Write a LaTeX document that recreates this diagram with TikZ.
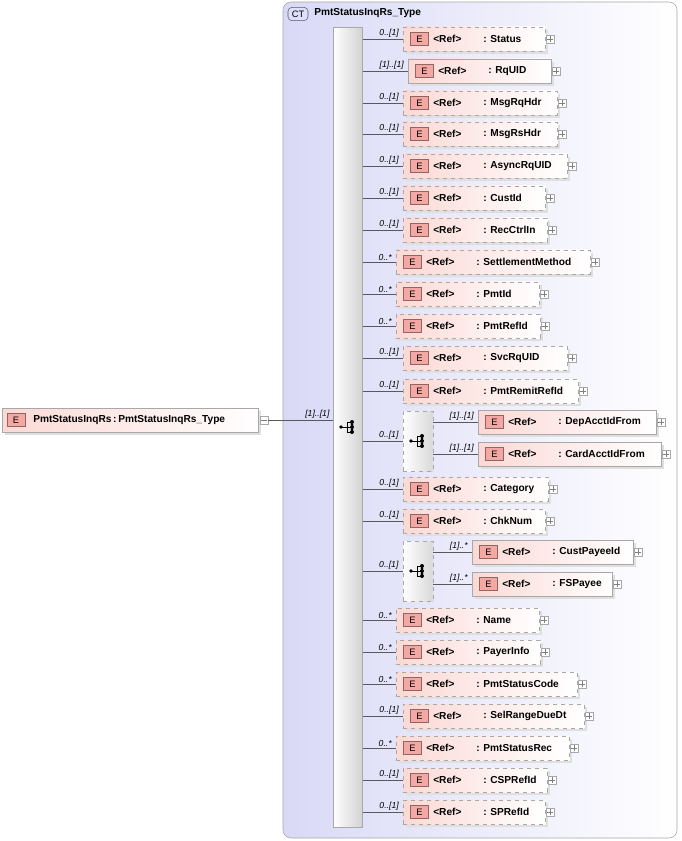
\documentclass[tikz,border=0pt]{standalone}
\usepackage{fontspec}
\setmainfont{Liberation Sans}
\usetikzlibrary{calc}
\definecolor{pinkA}{HTML}{FBD9D5}
\definecolor{ebox}{HTML}{F4A8A4}
\definecolor{lav}{HTML}{D9D9F7}
\definecolor{bord}{HTML}{A8A8A8}
\tikzset{
 elbox/.style={draw=bord,left color=pinkA,right color=white,minimum height=18pt,inner sep=0pt,anchor=west},
 dashedbox/.style={elbox,dashed},
 etag/.style={draw=ebox!60!black,fill=ebox,minimum width=13.5pt,minimum height=10pt,inner sep=0pt,font=\fontsize{7}{8}\selectfont},
 lbl/.style={font=\fontsize{6.5}{7}\selectfont\itshape,anchor=south east,inner sep=1pt},
 txt/.style={font=\fontsize{7.6}{8}\bfseries\selectfont,anchor=west,inner sep=0pt},
 plusbox/.style={draw=bord,fill=white,minimum size=6pt,inner sep=0pt},
 conn/.style={draw=gray!70!black,line width=0.5pt}
}
\newcommand\elrow[7]{%
 \fill[gray!25] (#2+3,#4-9) rectangle (#3+3,#4+15);
 \node[#7,minimum width={(#3-#2)*0.75pt}] (#1) at (#2,#4) {};
 \node[etag] (#1e) at (#2+16.5,#4) {E};
 \node[txt] at (#2+30,#4) {<Ref>};
 \node[txt] at (#2+80,#4) {: #5};
 \node[plusbox] (#1p) at (#3+5,#4) {};
 \draw[gray] ($(#1p.west)+(1pt,0)$) -- ($(#1p.east)-(1pt,0)$) ($(#1p.north)-(0,1pt)$) -- ($(#1p.south)+(0,1pt)$);
}
\newcommand\choiceicon[2]{%
 \fill (#1-7,#2) circle (1.4pt);
 \draw[line width=0.6pt] (#1-7,#2) -- (#1-1,#2) (#1-1,#2-5) -- (#1-1,#2+5) (#1-1,#2-5) -- (#1+4,#2-5) (#1-1,#2+5) -- (#1+4,#2+5) (#1-1,#2) -- (#1+4,#2);
 \foreach \d in {-5,0,5} \fill (#1+4,#2+\d) circle (1.5pt);
 \foreach \d in {-2.5,2.5} \fill (#1+4,#2+\d) circle (1.1pt);
}
\begin{document}
\begin{tikzpicture}[x=0.75pt,y=-0.75pt]
\useasboundingbox (0,0) rectangle (681,841);
\draw[bord,rounded corners=6pt,left color=lav,right color=white] (283,2) rectangle (677,838);
\node[draw=gray!70!black,fill=lav!80!blue!40,rounded corners=3pt,minimum width=15pt,minimum height=10pt,inner sep=0pt,font=\fontsize{7}{8}\selectfont] (ct) at (298,14) {CT};
\node[txt] (cttitle) at (314,13) {PmtStatusInqRs\_Type};
\node[draw=bord,left color=white,right color=gray!35,minimum width={29*0.75pt},minimum height={800*0.75pt},inner sep=0pt,anchor=north west] (seq) at (333,27) {};
\choiceicon{348}{427}
\fill[gray!25] (5,411) rectangle (261,435);
\node[elbox,minimum width={256*0.75pt}] (root) at (2,420) {};
\node[etag] at (16,420) {E};
\node[txt] at (33,420) {PmtStatusInqRs\,:\,PmtStatusInqRs\_Type};
\node[plusbox] (rootm) at (264,420) {};
\draw[gray] ($(rootm.west)+(1pt,0)$) -- ($(rootm.east)-(1pt,0)$);
\draw[conn] (rootm.east) -- (seq.west |- rootm);
\node[lbl] at (331,420) {[1]..[1]};
\foreach \n/\a/\b/\y/\t/\m/\s in {
 status/403/545/39/Status/0..[1]/dashedbox,
 rquid/408/551/71/RqUID/[1]..[1]/elbox,
 msgrq/403/557/103/MsgRqHdr/0..[1]/dashedbox,
 msgrs/403/557/134/MsgRsHdr/0..[1]/dashedbox,
 async/403/567/166/AsyncRqUID/0..[1]/dashedbox,
 cust/403/545/198/CustId/0..[1]/dashedbox,
 rec/403/547/230/RecCtrlIn/0..[1]/dashedbox,
 settle/396/590/262/SettlementMethod/0..*/dashedbox,
 pmtid/396/539/294/PmtId/0..*/dashedbox,
 pmtref/396/540/326/PmtRefId/0..*/dashedbox,
 svc/403/567/358/SvcRqUID/0..[1]/dashedbox,
 remit/403/578/391/PmtRemitRefId/0..[1]/dashedbox,
 cat/403/548/489/Category/0..[1]/dashedbox,
 chk/403/545/521/ChkNum/0..[1]/dashedbox,
 name/396/539/620/Name/0..*/dashedbox,
 payer/396/540/652/PayerInfo/0..*/dashedbox,
 code/396/577/684/PmtStatusCode/0..*/dashedbox,
 selr/403/584/716/SelRangeDueDt/0..[1]/dashedbox,
 srec/396/569/748/PmtStatusRec/0..*/dashedbox,
 csp/403/547/780/CSPRefId/0..[1]/dashedbox,
 sp/403/545/812/SPRefId/0..[1]/dashedbox}{
 \elrow{\n}{\a}{\b}{\y}{\t}{\m}{\s}
 \draw[conn] (seq.east |- \n.west) -- (\n.west);
 \node[lbl] at ($(\n.west)+(-2pt,0)$) {\m};
}
\foreach \c/\y in {ch1/441,ch2/571}{
 \node[draw=bord,dashed,left color=white,right color=gray!30,minimum width={30*0.75pt},minimum height={60*0.75pt},inner sep=0pt] (\c) at (418,\y) {};
 \choiceicon{418}{\y}
 \draw[conn] (seq.east |- \c.west) -- (\c.west);
 \node[lbl] at ($(\c.west)+(-2pt,0)$) {0..[1]};
}
\foreach \n/\a/\b/\y/\t/\m/\c in {
 dep/478/656/422/DepAcctIdFrom/[1]..[1]/ch1,
 card/478/661/454/CardAcctIdFrom/[1]..[1]/ch1,
 payee/472/633/552/CustPayeeId/[1]..*/ch2,
 fsp/472/612/584/FSPayee/[1]..*/ch2}{
 \elrow{\n}{\a}{\b}{\y}{\t}{\m}{elbox}
 \draw[conn] (\c.east |- \n.west) -- (\n.west);
 \node[lbl] at ($(\n.west)+(-2pt,0)$) {\m};
}
\end{tikzpicture}
\end{document}
